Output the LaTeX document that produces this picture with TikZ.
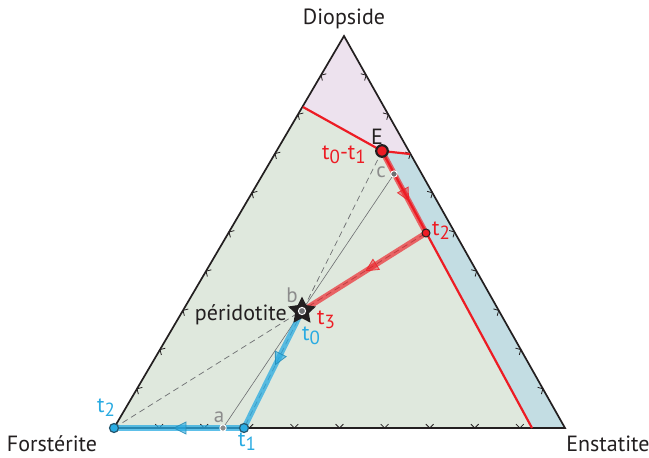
\documentclass[tikz,border=0pt]{standalone}
\usepackage{fontspec}
\setmainfont{PT Sans}
\usetikzlibrary{shapes.geometric,arrows.meta,decorations.markings,calc}

\definecolor{fogreen}{HTML}{DFE8DD}
\definecolor{dipink}{HTML}{EDE2EE}
\definecolor{enblue}{HTML}{C3DDE3}
\definecolor{lred}{HTML}{ED1C24}
\definecolor{lblue}{HTML}{29ABE2}
\definecolor{lgray}{HTML}{8C8C8C}
\definecolor{dgray}{HTML}{6D6E71}
\definecolor{ink}{HTML}{231F20}

\newcommand\tsub[1]{t\raisebox{-0.4ex}{\fontsize{19}{20}\selectfont #1}}

\tikzset{
  lab/.style={font=\fontsize{22}{24}\selectfont, text=ink, inner sep=0pt},
  redlab/.style={font=\fontsize{22}{24}\selectfont, text=lred, inner sep=0pt},
  bluelab/.style={font=\fontsize{22}{24}\selectfont, text=lblue, inner sep=0pt},
  graylab/.style={font=\fontsize{21}{24}\selectfont, text=lgray, inner sep=0pt},
  tickmark/.style={draw=ink, line width=0.8pt},
  edge/.style={draw=ink, line width=1.7pt, line join=miter},
  bound/.style={draw=lred, line width=2.2pt},
  guide/.style={draw=dgray, line width=0.7pt, dash pattern=on 6pt off 4pt},
  thinline/.style={draw=dgray, line width=0.6pt},
  redpath/.style={draw=lred, line width=5.5pt, draw opacity=0.65},
  bluepath/.style={draw=lblue, line width=5.5pt, draw opacity=0.75},
  redarrow/.style={postaction={decorate, decoration={markings,
     mark=at position #1 with {\filldraw[draw=lred, fill=lred, fill opacity=0.45, draw opacity=0.8, line width=0.8pt] (5,0) -- (-7,6) -- (-7,-6) -- cycle;}}}},
  bluearrow/.style={postaction={decorate, decoration={markings,
     mark=at position #1 with {\filldraw[draw=lblue!80!black, fill=lblue, fill opacity=0.6, draw opacity=0.8, line width=0.8pt] (5,0) -- (-7,6) -- (-7,-6) -- cycle;}}}},
}

\begin{document}
\begin{tikzpicture}[x=1pt,y=1pt]
\useasboundingbox (0,0) rectangle (649,-458);
\fill[white] (0,0) rectangle (649,-458);

% key points
\coordinate (Di) at (344,-36);
\coordinate (Fo) at (114,-428);
\coordinate (En) at (565,-428);
\coordinate (L) at (303,-107);
\coordinate (R) at (410,-154);
\coordinate (E) at (382,-151);
\coordinate (B) at (532,-428);
\coordinate (c) at (394,-174);
\coordinate (t2r) at (426,-233);
\coordinate (b) at (302,-311);
\coordinate (t1) at (244,-428);
\coordinate (a) at (223,-428);

% fields
\fill[fogreen] (Fo) -- (L) -- (E) -- (B) -- cycle;
\fill[dipink] (Di) -- (L) -- (E) -- (R) -- cycle;
\fill[enblue] (R) -- (En) -- (B) -- (E) -- cycle;

% construction lines
\draw[guide] (Fo) -- (t2r);
\draw[guide] (E) -- (t1);
\draw[thinline] (a) -- (c);

% triangle
\draw[edge] (Fo) -- (Di) -- (En) -- cycle;

% tick marks
\foreach \k in {1,...,9}{
  \coordinate (pl) at ($(Fo)!\k/10!(Di)$);
  \draw[tickmark] (pl) ++(14.6:5.5) -- (pl) -- ++(284.6:5.5);
  \coordinate (pr) at ($(En)!\k/10!(Di)$);
  \draw[tickmark] (pr) ++(164.4:5.5) -- (pr) -- ++(254.4:5.5);
  \coordinate (pb) at ($(Fo)!\k/10!(En)$);
  \draw[tickmark] (pb) ++(45:5.5) -- (pb) -- ++(135:5.5);
}

% cotectic boundaries
\draw[bound] (L) -- (E) -- (R);
\draw[bound] (E) -- (B);

% crystallisation paths
\draw[redpath, redarrow=0.55] (E) -- (t2r);
\draw[redpath, redarrow=0.45] (t2r) -- (b);
\draw[bluepath, bluearrow=0.42] (b) -- (t1);
\draw[bluepath, bluearrow=0.5] (t1) -- (Fo);

% dots
\filldraw[fill=dgray, draw=white, line width=0.9pt] (c) circle (3.2);
\filldraw[fill=lgray, draw=white, line width=0.9pt] (a) circle (3.2);
\filldraw[fill=lred, draw=ink, line width=2.2pt] (E) circle (5.8);
\filldraw[fill=lred, draw=ink, line width=1pt] (t2r) circle (4);
\filldraw[fill=lblue, draw=ink!60!lblue, line width=1.2pt] (t1) circle (4.5);
\filldraw[fill=lblue, draw=ink!60!lblue, line width=1.2pt] (Fo) circle (4.5);
\node[star, star points=5, star point ratio=2.0, fill=ink, minimum size=29pt, inner sep=0pt] (star) at (b) {};
\filldraw[fill=dgray, draw=white, line width=1pt] (b) circle (3.6);

% labels
\node[lab, anchor=base] (ldi) at (344,-24) {Diopside};
\node[lab, anchor=base] (lfo) at (52,-451) {Forstérite};
\node[lab, anchor=base] (len) at (608,-451) {Enstatite};
\node[lab, anchor=base] (lE) at (377,-144) {E};
\node[redlab, anchor=base] (lt01) at (344,-159) {\tsub{0}-\tsub{1}};
\node[graylab, anchor=base] (lc) at (381,-177) {c};
\node[redlab, anchor=base west] (lt2r) at (432,-235) {\tsub{2}};
\node[graylab, anchor=base] (lb) at (292,-302) {b};
\node[lab, anchor=base east] (lper) at (287,-320) {péridotite};
\node[redlab, anchor=base west] (lt3) at (317,-324) {\tsub{3}};
\node[bluelab, anchor=base west] (lt0) at (302,-340) {\tsub{0}};
\node[bluelab, anchor=base west] (lt2b) at (97,-412) {\tsub{2}};
\node[graylab, anchor=base] (la) at (219,-422) {a};
\node[bluelab, anchor=base west] (lt1) at (238,-446) {\tsub{1}};
\end{tikzpicture}
\end{document}
